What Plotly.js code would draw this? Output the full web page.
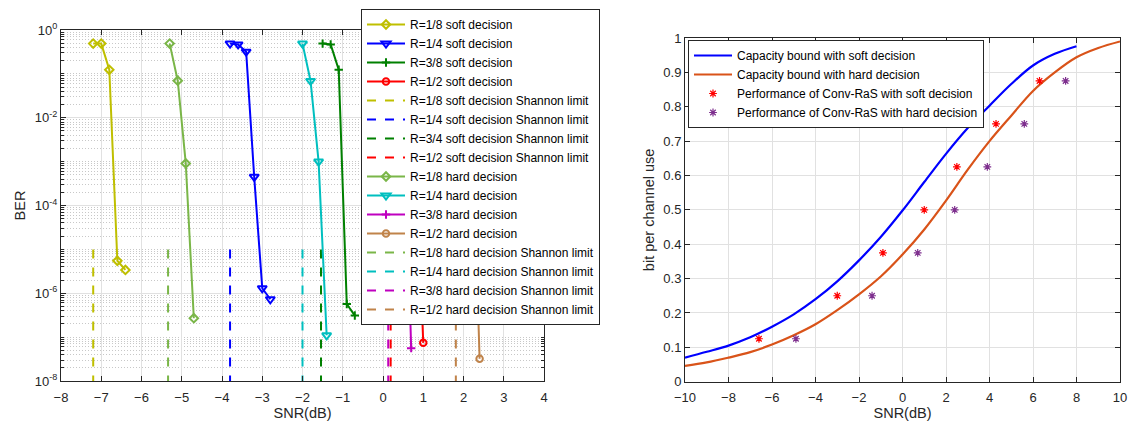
<!DOCTYPE html>
<html>
<head>
<meta charset="utf-8">
<script src="https://cdn.plot.ly/plotly-3.0.1.min.js"></script>
<style>
  html, body { margin: 0; padding: 0; background: #ffffff; }
  #chart { width: 1128px; height: 424px; }
</style>
</head>
<body>
<div id="chart"></div>
<script>
// ---------- Left chart: BER vs SNR ----------
var soft18X = [-7.2, -7.0, -6.8, -6.6, -6.4];
var soft18Y = [0.49, 0.49, 0.124, 5.5e-6, 3.4e-6];
var soft14X = [-3.8, -3.6, -3.4, -3.2, -3.0, -2.8];
var soft14Y = [0.49, 0.47, 0.32, 4.5e-4, 1.3e-6, 7.3e-7];
var soft38X = [-1.5, -1.3, -1.1, -0.9, -0.7];
var soft38Y = [0.49, 0.47, 0.124, 5.7e-7, 3.1e-7];
var soft12X = [0.2, 0.4, 0.6, 0.8, 1.0];
var soft12Y = [0.49, 0.47, 0.12, 4.3e-3, 7.4e-8];

var hard18X = [-5.3, -5.1, -4.9, -4.7];
var hard18Y = [0.49, 0.07, 9.1e-4, 2.7e-7];
var hard14X = [-2.0, -1.8, -1.6, -1.4];
var hard14Y = [0.49, 0.069, 1.0e-3, 1.1e-7];
var hard38X = [0.1, 0.3, 0.5, 0.7];
var hard38Y = [0.49, 0.47, 0.09, 5.6e-8];
var hard12X = [1.8, 2.0, 2.2, 2.4];
var hard12Y = [0.49, 0.47, 0.03, 3.2e-8];

var shannonSoft = [-7.2, -3.8, -1.54, 0.19];   // 1/8, 1/4, 3/4, 1/2
var shannonHard = [-5.34, -2.0, 0.13, 1.81];   // 1/8, 1/4, 3/8, 1/2
var shannonBER = [1e-5, 1e-8];

var berTickVals = [1e-8, 1e-6, 1e-4, 1e-2, 1];
var berTickText = ['10<sup>-8</sup>', '10<sup>-6</sup>', '10<sup>-4</sup>', '10<sup>-2</sup>', '10<sup>0</sup>'];

// ---------- Right chart: rate vs SNR ----------
var capSoftX = [-10, -9, -8, -7, -6, -5, -4, -3, -2, -1, 0, 1, 2, 3, 4, 5, 6, 7, 8];
var capSoftY = [0.070, 0.087, 0.105, 0.129, 0.160, 0.196, 0.240, 0.292, 0.353, 0.421, 0.498, 0.581, 0.663, 0.738, 0.803, 0.866, 0.920, 0.954, 0.976];
var capHardX = [-10, -9, -8, -7, -6, -5, -4, -3, -2, -1, 0, 1, 2, 3, 4, 5, 6, 7, 8, 9, 10];
var capHardY = [0.046, 0.056, 0.070, 0.086, 0.108, 0.135, 0.167, 0.208, 0.254, 0.306, 0.370, 0.443, 0.527, 0.617, 0.700, 0.774, 0.846, 0.900, 0.944, 0.971, 0.990];
var perfSoftX = [-6.6, -3.0, -0.9, 1.0, 2.5, 4.3, 6.3];
var perfSoftY = [0.125, 0.25, 0.375, 0.5, 0.625, 0.75, 0.875];
var perfHardX = [-4.9, -1.4, 0.7, 2.4, 3.9, 5.6, 7.5];
var perfHardY = [0.125, 0.25, 0.375, 0.5, 0.625, 0.75, 0.875];

// ---------- styles ----------
var FONT = 'Liberation Sans, Arial, Helvetica, sans-serif';
var AXC = '#262626';
var GRID = '#e1e1e1';
var W = 1128, H = 424;

var cY18 = '#bfbf00', cB = '#0000ff', cDG = '#008000', cR = '#ff0000';
var cLG = '#7ab648', cC = '#00bfbf', cM = '#bf00bf', cBr = '#c0834a';

function curve(x, y, name, color, symbol, size) {
  return {
    x: x, y: y, name: name, type: 'scatter', mode: 'lines+markers',
    xaxis: 'x', yaxis: 'y', legend: 'legend',
    line: {color: color, width: 2},
    marker: {symbol: symbol, size: size, color: color, line: {color: color, width: 2}}
  };
}
function limit(v, name, color) {
  return {
    x: [v, v], y: shannonBER, name: name, type: 'scatter', mode: 'lines',
    xaxis: 'x', yaxis: 'y', legend: 'legend',
    line: {color: color, width: 2, dash: 'dash'}
  };
}

var traces = [
  curve(soft18X, soft18Y, 'R=1/8 soft decision', cY18, 'diamond-open', 6.5),
  curve(soft14X, soft14Y, 'R=1/4 soft decision', cB, 'triangle-down-open', 8),
  curve(soft38X, soft38Y, 'R=3/8 soft decision', cDG, 'cross-thin-open', 6),
  curve(soft12X, soft12Y, 'R=1/2 soft decision', cR, 'circle-open', 6.5),
  limit(shannonSoft[0], 'R=1/8 soft decision Shannon limit', cY18),
  limit(shannonSoft[1], 'R=1/4 soft decision Shannon limit', cB),
  limit(shannonSoft[2], 'R=3/4 soft decision Shannon limit', cDG),
  limit(shannonSoft[3], 'R=1/2 soft decision Shannon limit', cR),
  curve(hard18X, hard18Y, 'R=1/8 hard decision', cLG, 'diamond-open', 6.5),
  curve(hard14X, hard14Y, 'R=1/4 hard decision', cC, 'triangle-down-open', 8),
  curve(hard38X, hard38Y, 'R=3/8 hard decision', cM, 'cross-thin-open', 6),
  curve(hard12X, hard12Y, 'R=1/2 hard decision', cBr, 'circle-open', 6.5),
  limit(shannonHard[0], 'R=1/8 hard decision Shannon limit', cLG),
  limit(shannonHard[1], 'R=1/4 hard decision Shannon limit', cC),
  limit(shannonHard[2], 'R=3/8 hard decision Shannon limit', cM),
  limit(shannonHard[3], 'R=1/2 hard decision Shannon limit', cBr),

  {x: capSoftX, y: capSoftY, name: 'Capacity bound with soft decision', type: 'scatter', mode: 'lines',
   xaxis: 'x2', yaxis: 'y2', legend: 'legend2', line: {color: '#0000ff', width: 2.2, shape: 'spline', smoothing: 1}},
  {x: capHardX, y: capHardY, name: 'Capacity bound with hard decision', type: 'scatter', mode: 'lines',
   xaxis: 'x2', yaxis: 'y2', legend: 'legend2', line: {color: '#d95319', width: 2.2, shape: 'spline', smoothing: 1}},
  {x: perfSoftX, y: perfSoftY, name: 'Performance of Conv-RaS with soft decision', type: 'scatter', mode: 'markers',
   xaxis: 'x2', yaxis: 'y2', legend: 'legend2',
   marker: {symbol: 'asterisk-open', size: 6.5, color: '#ff0000', line: {color: '#ff0000', width: 1.2}}},
  {x: perfHardX, y: perfHardY, name: 'Performance of Conv-RaS with hard decision', type: 'scatter', mode: 'markers',
   xaxis: 'x2', yaxis: 'y2', legend: 'legend2',
   marker: {symbol: 'asterisk-open', size: 6.5, color: '#7e2f8e', line: {color: '#7e2f8e', width: 1.2}}}
];

// minor grid positions for the log axis
var berMinor = [];
for (var k = -8; k <= -1; k++) {
  for (var m = 1; m <= 9; m++) {
    if (m === 1 && k % 2 === 0) continue;
    berMinor.push(m * Math.pow(10, k));
  }
}

function baseAxis(extra) {
  var a = {
    showline: true, mirror: 'ticks', linecolor: AXC, linewidth: 1,
    ticks: 'inside', ticklen: 5, tickcolor: AXC, tickwidth: 1,
    showgrid: true, gridcolor: GRID, gridwidth: 1, zeroline: false,
    tickfont: {family: FONT, size: 13, color: AXC},
    automargin: false
  };
  for (var key in extra) a[key] = extra[key];
  return a;
}

var TITLEFONT = {family: FONT, size: 14.5, color: AXC};

var layout = {
  width: W, height: H,
  margin: {l: 0, r: 0, t: 0, b: 0},
  paper_bgcolor: '#ffffff', plot_bgcolor: '#ffffff',
  font: {family: FONT, color: AXC},
  showlegend: true,
  xaxis: baseAxis({
    domain: [61 / W, 544 / W], range: [-8, 4], dtick: 1, tick0: 0, anchor: 'y',
    ticklabelstandoff: 4,
    title: {text: 'SNR(dB)', font: TITLEFONT, standoff: 3}
  }),
  yaxis: baseAxis({
    domain: [1 - 381 / H, 1 - 30 / H], type: 'log', range: [-8, 0], anchor: 'x',
    tickmode: 'array', tickvals: berTickVals, ticktext: berTickText,
    minor: {tickmode: 'array', tickvals: berMinor, ticks: 'inside', ticklen: 3, tickcolor: AXC,
            showgrid: true, gridcolor: '#c8c8c8', griddash: '1px,2px', gridwidth: 1},
    title: {text: 'BER', font: TITLEFONT, standoff: 5}
  }),
  xaxis2: baseAxis({
    domain: [685 / W, 1120 / W], range: [-10, 10], dtick: 2, tick0: 0, anchor: 'y2',
    ticklabelstandoff: 4,
    title: {text: 'SNR(dB)', font: TITLEFONT, standoff: 3}
  }),
  yaxis2: baseAxis({
    domain: [1 - 381.7 / H, 1 - 38 / H], range: [0, 1], dtick: 0.1, tick0: 0, anchor: 'x2',
    title: {text: 'bit per channel use', font: TITLEFONT, standoff: 5}
  }),
  legend: {
    x: 361 / W, y: 1 - 9 / H, xanchor: 'left', yanchor: 'top',
    bgcolor: '#ffffff', bordercolor: AXC, borderwidth: 1,
    font: {family: FONT, size: 12, color: '#000000'},
    itemwidth: 38, tracegroupgap: 0, traceorder: 'normal'
  },
  legend2: {
    x: 688 / W, y: 1 - 40 / H, xanchor: 'left', yanchor: 'top',
    bgcolor: '#ffffff', bordercolor: AXC, borderwidth: 1,
    font: {family: FONT, size: 12, color: '#000000'},
    itemwidth: 38, tracegroupgap: 0, traceorder: 'normal'
  }
};

Plotly.newPlot('chart', traces, layout, {staticPlot: true, displayModeBar: false});
</script>
</body>
</html>
